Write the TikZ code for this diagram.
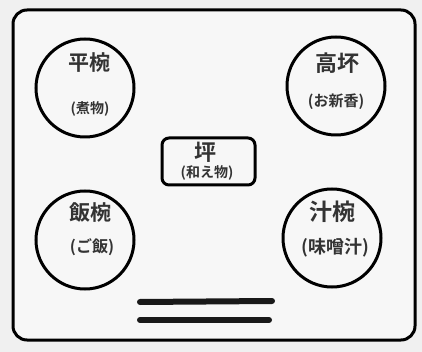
\documentclass[tikz,border=0pt]{standalone}
\usepackage{fontspec}
\newfontfamily\jp{Noto Sans CJK JP Bold}
\newcommand{\jpsize}[1]{\jp\fontsize{#1}{#1}\selectfont}
\begin{document}
\begin{tikzpicture}[x=1pt,y=-1pt,
  dish/.style={draw=black,line width=3pt,circle,minimum size=98pt,inner sep=0pt},
  title/.style={text=black!80,inner sep=0pt},
  sub/.style={text=black!80,inner sep=0pt},
  chop/.style={line width=6pt,line cap=round,draw=black!90}]
\fill[black!6] (0,0) rectangle (422,352);
\useasboundingbox (0,0) rectangle (422,352);
\draw[line width=3pt,fill=black!3,rounded corners=14pt] (13,10) rectangle (415,340);
\node[dish] (d1) at (85,88) {};
\node[dish] (d2) at (336,86) {};
\node[dish] (d3) at (85,240) {};
\node[dish] (d4) at (332,238) {};
\node[draw=black,line width=3pt,rounded corners=7pt,minimum width=93pt,minimum height=47pt] (d5) at (208.5,161.5) {};
\node[title,font=\jpsize{21}] (t1) at (89,63) {平椀};
\node[sub,font=\jpsize{14}] (s1) at (90,109) {(煮物)};
\node[title,font=\jpsize{22}] (t2) at (337,63) {高坏};
\node[sub,font=\jpsize{15}] (s2) at (336,102) {(お新香)};
\node[title,font=\jpsize{22}] (t5) at (205,152) {坪};
\node[sub,font=\jpsize{14}] (s5) at (207,173) {(和え物)};
\node[title,font=\jpsize{21}] (t3) at (90,213) {飯椀};
\node[sub,font=\jpsize{16}] (s3) at (92,247) {(ご飯)};
\node[title,font=\jpsize{23}] (t4) at (332,212) {汁椀};
\node[sub,font=\jpsize{18}] (s4) at (335,248) {(味噌汁)};
\coordinate (c1a) at (140,302);
\coordinate (c1b) at (272,301);
\coordinate (c2a) at (140,320);
\coordinate (c2b) at (269,320);
\draw[chop] (c1a) -- (c1b);
\draw[chop] (c2a) -- (c2b);
\end{tikzpicture}
\end{document}
